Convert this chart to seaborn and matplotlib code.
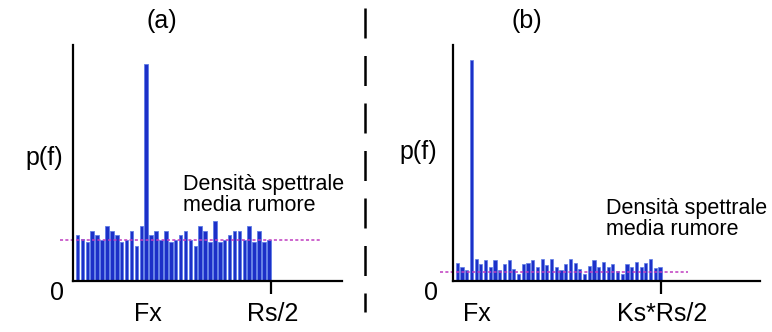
import numpy as np
import pandas as pd
import matplotlib.pyplot as plt
import seaborn as sns
from matplotlib.lines import Line2D

# noise spectrum, sampling at Rs (a) and oversampled Ks*Rs (b)
p_a = [0.193, 0.177, 0.165, 0.212, 0.193, 0.172, 0.233, 0.212, 0.193, 0.165,
       0.172, 0.212, 0.148, 0.233, 0.921, 0.193, 0.212, 0.172, 0.212, 0.165,
       0.172, 0.193, 0.212, 0.172, 0.148, 0.233, 0.212, 0.165, 0.253, 0.165,
       0.172, 0.193, 0.212, 0.212, 0.172, 0.233, 0.165, 0.212, 0.165, 0.172]
p_b = [0.076, 0.059, 0.048, 0.935, 0.095, 0.071, 0.090, 0.059, 0.088, 0.048,
       0.071, 0.090, 0.052, 0.031, 0.071, 0.076, 0.088, 0.059, 0.095, 0.066,
       0.095, 0.059, 0.048, 0.073, 0.095, 0.076, 0.052, 0.031, 0.062, 0.088,
       0.059, 0.081, 0.059, 0.071, 0.042, 0.031, 0.071, 0.059, 0.081, 0.059,
       0.076, 0.095, 0.056, 0.059]
mean_a = 0.175
mean_b = 0.038

df_a = pd.DataFrame({'bin': range(len(p_a)), 'p': p_a})
df_b = pd.DataFrame({'bin': range(len(p_b)), 'p': p_b})

sns.set_style('white')
plt.rcParams['font.family'] = ['Liberation Sans', 'DejaVu Sans']
plt.rcParams['text.color'] = 'black'

W, H = 772, 332
fig = plt.figure(figsize=(W / 100, H / 100), dpi=100)


def px(x, y):
    return x / W, 1 - y / H


def make_ax(x0, x1, y0, y1):
    l, b = px(x0, y1)
    return fig.add_axes([l, b, (x1 - x0) / W, (y1 - y0) / H])


bar_col = '#1c30c8'
edge_col = '#5f7de6'

# ---- panel (a)
ax1 = make_ax(73, 342, 45, 281)
sns.barplot(data=df_a, x='bin', y='p', color=bar_col, width=0.72,
            edgecolor=edge_col, linewidth=0.6, saturation=1, ax=ax1)
ax1.set_xlim(-0.92, 53.9)
ax1.set_ylim(0, 1)
ax1.plot([-3.5, 49.5], [mean_a, mean_a], ls=(0, (2, 1.5)), lw=1.1,
         color='#c03cc0', clip_on=False)
ax1.set_xticks([39.4])
ax1.set_xticklabels([''])

# ---- panel (b)
ax2 = make_ax(453, 760, 45, 281)
sns.barplot(data=df_b, x='bin', y='p', color=bar_col, width=0.66,
            edgecolor=edge_col, linewidth=0.5, saturation=1, ax=ax2)
ax2.set_xlim(-0.91, 64.2)
ax2.set_ylim(0, 1)
ax2.plot([-3.7, 48.9], [mean_b, mean_b], ls=(0, (2, 1.5)), lw=1.1,
         color='#c03cc0', clip_on=False)
ax2.set_xticks([43.2])
ax2.set_xticklabels([''])

for ax in (ax1, ax2):
    ax.set_xlabel('')
    ax.set_ylabel('')
    ax.set_yticks([])
    ax.set_facecolor('none')
    for s in ('top', 'right'):
        ax.spines[s].set_visible(False)
    for s in ('left', 'bottom'):
        ax.spines[s].set_color('black')
        ax.spines[s].set_linewidth(1.6)
    ax.tick_params(axis='x', direction='out', length=9, width=1.6,
                   color='black', bottom=True)

# divider
fig.add_artist(Line2D([365 / W, 365 / W], [1 - 8 / H, 1 - 312 / H],
                      color='black', lw=1.8, ls=(0, (12, 7))))

# texts
big = 18
fig.text(*px(162, 21), '(a)', fontsize=big, ha='center', va='center')
fig.text(*px(527, 21), '(b)', fontsize=big, ha='center', va='center')
fig.text(*px(44, 158), 'p(f)', fontsize=big, ha='center', va='center')
fig.text(*px(418, 152), 'p(f)', fontsize=big, ha='center', va='center')
fig.text(*px(57, 293), '0', fontsize=big, ha='center', va='center')
fig.text(*px(431, 293), '0', fontsize=big, ha='center', va='center')
fig.text(*px(148, 314), 'Fx', fontsize=big, ha='center', va='center')
fig.text(*px(273, 314), 'Rs/2', fontsize=big, ha='center', va='center')
fig.text(*px(477, 314), 'Fx', fontsize=big, ha='center', va='center')
fig.text(*px(662, 314), 'Ks*Rs/2', fontsize=big, ha='center', va='center')
fig.text(*px(183, 195), 'Densità spettrale\nmedia rumore', fontsize=15.5,
         ha='left', va='center', linespacing=1.05)
fig.text(*px(606, 219), 'Densità spettrale\nmedia rumore', fontsize=15.5,
         ha='left', va='center', linespacing=1.05)

fig.savefig('out.png', dpi=100)
